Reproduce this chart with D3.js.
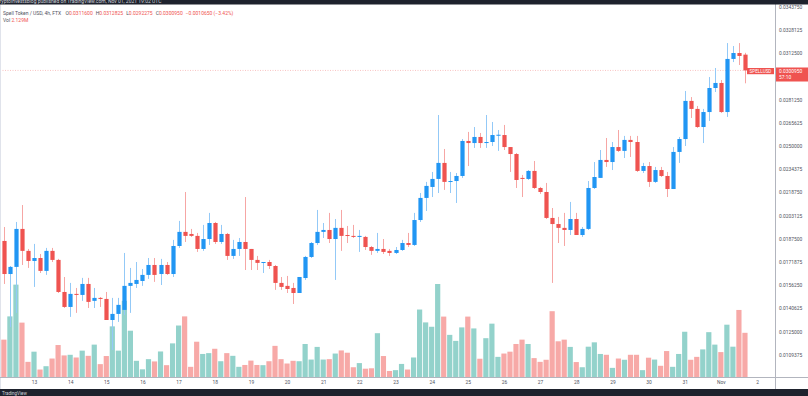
<!DOCTYPE html>
<html>
<head>
<meta charset="utf-8">
<script src="https://cdn.jsdelivr.net/npm/d3@7"></script>
<style>
body { margin: 0; background: #fff; }
svg { display: block; font-family: Roboto, "Liberation Sans", sans-serif; }
</style>
</head>
<body>
<script>
var W = 808, H = 396;
var paneRight = 775, paneBottom = 377;

// 4h candles, Spell Token / USD (FTX), Oct 12 04:00 -> Nov 1 16:00 UTC
var openP = [0.01860,0.01637,0.01685,0.01941,0.01793,0.01725,0.01745,0.01658,0.01793,0.01732,
  0.01516,0.01415,0.01503,0.01496,0.01570,0.01456,0.01476,0.01469,0.01327,0.01368,
  0.01395,0.01557,0.01570,0.01590,0.01631,0.01698,0.01637,0.01698,0.01637,0.01826,
  0.01921,0.01907,0.01894,0.01806,0.01873,0.01981,0.01853,0.01907,0.01759,0.01806,
  0.01853,0.01806,0.01732,0.01712,0.01718,0.01691,0.01577,0.01557,0.01543,0.01509,
  0.01610,0.01752,0.01846,0.01921,0.01934,0.01873,0.01948,0.01900,0.01894,0.01887,
  0.01887,0.01819,0.01793,0.01806,0.01793,0.01779,0.01799,0.01846,0.01833,0.02001,
  0.02150,0.02224,0.02278,0.02386,0.02258,0.02264,0.02298,0.02534,0.02520,0.02561,
  0.02520,0.02527,0.02572,0.02574,0.02493,0.02446,0.02285,0.02278,0.02332,0.02217,
  0.02190,0.02015,0.01974,0.01948,0.01934,0.02008,0.01900,0.01941,0.02217,0.02285,
  0.02406,0.02392,0.02493,0.02467,0.02541,0.02527,0.02332,0.02365,0.02258,0.02338,
  0.02298,0.02210,0.02460,0.02547,0.02804,0.02750,0.02628,0.02729,0.02891,0.02925,
  0.02729,0.03087,0.03127,0.03116];

var highP = [0.01954,0.01691,0.01988,0.02102,0.01806,0.01840,0.01772,0.01813,0.01813,0.01739,
  0.01617,0.01577,0.01543,0.01611,0.01611,0.01543,0.01482,0.01516,0.01476,0.01476,
  0.01779,0.01678,0.01718,0.01671,0.01745,0.01745,0.01739,0.01718,0.01867,0.01995,
  0.02190,0.01941,0.01914,0.01968,0.02049,0.01988,0.01968,0.01914,0.01867,0.01880,
  0.02156,0.01806,0.01759,0.01718,0.01732,0.01698,0.01617,0.01624,0.01577,0.01617,
  0.01759,0.01853,0.02069,0.01981,0.02049,0.02008,0.02069,0.01961,0.01968,0.01934,
  0.01894,0.01826,0.01914,0.01873,0.01806,0.01819,0.01867,0.01914,0.02049,0.02183,
  0.02258,0.02325,0.02709,0.02480,0.02325,0.02318,0.02547,0.02595,0.02628,0.02588,
  0.02709,0.02662,0.02608,0.02642,0.02493,0.02453,0.02305,0.02338,0.02399,0.02224,
  0.02251,0.02082,0.02022,0.02049,0.02123,0.02049,0.01954,0.02264,0.02392,0.02473,
  0.02554,0.02527,0.02608,0.02568,0.02568,0.02568,0.02386,0.02392,0.02359,0.02359,
  0.02325,0.02493,0.02561,0.02871,0.02830,0.02770,0.02750,0.02965,0.03026,0.02945,
  0.03194,0.03174,0.03194,0.0312825];

var lowP = [0.01570,0.01280,0.01375,0.01698,0.01678,0.01550,0.01644,0.01631,0.01718,0.01509,
  0.01408,0.01348,0.01375,0.01456,0.01408,0.01408,0.01415,0.01327,0.01125,0.01314,
  0.01361,0.01375,0.01543,0.01557,0.01604,0.01584,0.01563,0.01631,0.01617,0.01813,
  0.01853,0.01887,0.01786,0.01793,0.01833,0.01840,0.01840,0.01732,0.01739,0.01759,
  0.01664,0.01664,0.01664,0.01644,0.01671,0.01530,0.01530,0.01509,0.01435,0.01509,
  0.01597,0.01745,0.01833,0.01880,0.01846,0.01597,0.01793,0.01846,0.01880,0.01786,
  0.01799,0.01766,0.01779,0.01772,0.01759,0.01772,0.01793,0.01819,0.01826,0.01988,
  0.02062,0.02156,0.02183,0.02204,0.02183,0.02116,0.02285,0.02365,0.02487,0.02487,
  0.02487,0.02500,0.02467,0.02473,0.02325,0.02217,0.02156,0.02271,0.02210,0.02177,
  0.02008,0.01577,0.01846,0.01826,0.01900,0.01900,0.01887,0.01934,0.02210,0.02285,
  0.02359,0.02338,0.02460,0.02419,0.02426,0.02325,0.02318,0.02224,0.02251,0.02291,
  0.02156,0.02210,0.02386,0.02500,0.02689,0.02622,0.02520,0.02669,0.02864,0.02723,
  0.02696,0.03066,0.03046,0.0292275];

var closeP = [0.01637,0.01685,0.01941,0.01793,0.01725,0.01745,0.01658,0.01793,0.01732,0.01516,
  0.01415,0.01503,0.01496,0.01570,0.01449,0.01476,0.01469,0.01327,0.01368,0.01429,
  0.01557,0.01577,0.01597,0.01631,0.01698,0.01631,0.01698,0.01637,0.01826,0.01921,
  0.01894,0.01894,0.01806,0.01873,0.01981,0.01853,0.01907,0.01759,0.01806,0.01853,
  0.01806,0.01732,0.01712,0.01718,0.01691,0.01577,0.01550,0.01536,0.01509,0.01617,
  0.01752,0.01846,0.01921,0.01934,0.01873,0.01948,0.01894,0.01894,0.01887,0.01894,
  0.01819,0.01793,0.01806,0.01786,0.01779,0.01799,0.01846,0.01833,0.02001,0.02150,
  0.02231,0.02278,0.02386,0.02258,0.02264,0.02298,0.02534,0.02520,0.02561,0.02520,
  0.02527,0.02574,0.02576,0.02493,0.02446,0.02271,0.02278,0.02332,0.02217,0.02190,
  0.02015,0.01974,0.01948,0.01934,0.02008,0.01900,0.01941,0.02217,0.02291,0.02406,
  0.02392,0.02493,0.02467,0.02541,0.02527,0.02332,0.02365,0.02258,0.02338,0.02298,
  0.02210,0.02460,0.02547,0.02804,0.02750,0.02628,0.02729,0.02891,0.02925,0.02729,
  0.03087,0.03127,0.03107,0.030095];

// volume, millions
var volume = [1.80,2.92,4.45,2.62,0.73,1.22,0.36,0.52,0.89,1.54,
  1.04,1.07,0.94,1.27,1.02,1.56,0.62,1.01,2.44,1.27,
  3.67,2.23,0.78,0.37,0.86,0.75,1.23,0.57,1.62,2.48,
  2.92,0.49,1.70,1.11,1.15,1.36,0.76,1.15,1.02,0.49,
  0.58,0.79,0.58,0.57,0.76,1.50,0.86,0.65,0.78,0.76,
  1.59,0.84,1.45,0.84,0.86,1.13,1.28,1.17,0.47,0.67,
  0.40,0.42,2.11,1.01,0.29,0.33,0.63,0.36,0.94,3.25,
  2.63,2.42,4.48,2.91,2.03,1.74,2.39,2.91,2.34,0.88,
  1.87,2.57,0.97,1.13,1.22,1.59,1.80,1.59,0.91,0.73,
  0.83,3.17,1.72,1.80,1.45,0.72,0.47,1.46,1.67,1.11,
  1.07,0.44,0.89,0.83,1.07,1.07,0.33,0.93,0.84,0.54,
  1.25,0.49,1.11,2.18,0.83,0.97,1.33,2.16,1.56,1.20,
  2.52,1.46,3.23,2.129];

// 0.0296875 sits under the last-price label, so it is not shown
var priceTicks = [0.0343750,0.0328125,0.0312500,0.0281250,0.0265625,0.0250000,0.0234375,
  0.0218750,0.0203125,0.0187500,0.0171875,0.0156250,0.0140625,0.0125000,0.0109375];
var dayLabels = ["13","14","15","16","17","18","19","20","21","22","23","24","25","26","27","28","29","30","31","Nov","2"];

var times = d3.utcHour.every(4).range(new Date(Date.UTC(2021, 9, 12, 4)), new Date(Date.UTC(2021, 10, 1, 20)));
var dayTicks = d3.utcDay.range(new Date(Date.UTC(2021, 9, 13)), new Date(Date.UTC(2021, 10, 3)));

var candles = times.map(function(t, i) {
	return {t: t, o: openP[i], h: highP[i], l: lowP[i], c: closeP[i], v: volume[i]};
});

var upCol = "#2196f3", downCol = "#ef5350";
var upWick = "#93c9f7", downWick = "#f6a6a4";
var upVol = "#93d2cb", downVol = "#f7a9a7";

var svg = d3.select("body").append("svg")
	.attr("width", W)
	.attr("height", H);

/*Scales*/
var x = d3.scaleUtc()
	.domain([new Date(Date.UTC(2021, 9, 12)), new Date(Date.UTC(2021, 10, 2))])
	.range([-2.15, 757]);
var y = d3.scaleLinear()
	.domain([0.0109375, 0.03125])
	.range([354.6, 53.3]);
var yVol = d3.scaleLinear()
	.domain([0, d3.max(volume)])
	.range([paneBottom, 284]);

svg.append("clipPath").attr("id", "pane")
	.append("rect").attr("x", 0).attr("y", 0).attr("width", paneRight).attr("height", paneBottom);

var pane = svg.append("g").attr("clip-path", "url(#pane)");

/*Volume*/
var vw = 5.2;
pane.selectAll("rect.vol").data(candles).enter().append("rect")
	.attr("class", "vol")
	.attr("x", function(d) { return x(d.t) - vw / 2; })
	.attr("y", function(d) { return yVol(d.v); })
	.attr("width", vw)
	.attr("height", function(d) { return paneBottom - yVol(d.v); })
	.attr("fill", function(d) { return d.c >= d.o ? upVol : downVol; });

/*Last price line*/
var last = candles[candles.length - 1];
pane.append("line")
	.attr("x1", 0).attr("x2", paneRight)
	.attr("y1", y(last.c)).attr("y2", y(last.c))
	.attr("stroke", "#ef5350").attr("stroke-opacity", 0.5)
	.attr("stroke-width", 0.7).attr("stroke-dasharray", "1,1.5");

/*Candles*/
var bw = 4.2;
var cg = pane.selectAll("g.candle").data(candles).enter().append("g").attr("class", "candle");
cg.append("line")
	.attr("x1", function(d) { return Math.round(x(d.t)) + 0.5; })
	.attr("x2", function(d) { return Math.round(x(d.t)) + 0.5; })
	.attr("y1", function(d) { return y(d.h); })
	.attr("y2", function(d) { return y(d.l); })
	.attr("stroke", function(d) { return d.c >= d.o ? upWick : downWick; })
	.attr("stroke-width", 1);
cg.append("rect")
	.attr("x", function(d) { return Math.round(x(d.t)) + 0.5 - bw / 2; })
	.attr("y", function(d) { return y(Math.max(d.o, d.c)); })
	.attr("width", bw)
	.attr("height", function(d) { return Math.max(1, Math.abs(y(d.o) - y(d.c))); })
	.attr("fill", function(d) { return d.c >= d.o ? upCol : downCol; });

/*Borders*/
svg.append("line").attr("x1", 0.5).attr("x2", 0.5).attr("y1", 0).attr("y2", 389)
	.attr("stroke", "#e0e3eb");
svg.append("line").attr("x1", paneRight + 0.5).attr("x2", paneRight + 0.5).attr("y1", 0).attr("y2", 389)
	.attr("stroke", "#b2b5be");
svg.append("line").attr("x1", 0).attr("x2", W).attr("y1", paneBottom + 0.5).attr("y2", paneBottom + 0.5)
	.attr("stroke", "#b2b5be");

/*Axes*/
var yAxis = d3.axisRight(y)
	.tickValues(priceTicks)
	.tickSize(0)
	.tickPadding(4)
	.tickFormat(d3.format(".7f"));
var ya = svg.append("g")
	.attr("transform", "translate(" + paneRight + ",0)")
	.call(yAxis);
ya.select(".domain").remove();
ya.selectAll("text").attr("font-size", 4.9).attr("fill", "#50535e").attr("font-family", "Roboto, sans-serif");

var xAxis = d3.axisBottom(x)
	.tickValues(dayTicks)
	.tickSize(0)
	.tickPadding(4)
	.tickFormat(function(d, i) { return dayLabels[i]; });
var xa = svg.append("g")
	.attr("transform", "translate(0," + paneBottom + ")")
	.call(xAxis);
xa.select(".domain").remove();
xa.selectAll("text").attr("font-size", 4.9).attr("fill", "#50535e").attr("font-family", "Roboto, sans-serif");

/*Last price labels*/
svg.append("rect").attr("x", paneRight + 1).attr("y", 67.5).attr("width", W - paneRight - 1).attr("height", 14)
	.attr("fill", downCol);
svg.append("text").attr("x", 779).attr("y", 73.2).attr("font-size", 4.9).attr("fill", "#fff")
	.text(d3.format(".7f")(last.c));
svg.append("text").attr("x", 779).attr("y", 79.2).attr("font-size", 4.9).attr("fill", "#fff")
	.text("57:10");
svg.append("rect").attr("x", 747).attr("y", 68).attr("width", 27).attr("height", 6.2)
	.attr("fill", downCol);
svg.append("text").attr("x", 760.5).attr("y", 72.9).attr("font-size", 4.6).attr("fill", "#fff")
	.attr("text-anchor", "middle").text("SPELLUSD");

/*Legend*/
var f7 = d3.format(".7f");
var leg = svg.append("text").attr("x", 3).attr("y", 15).attr("font-size", 5).attr("fill", "#50535e");
leg.append("tspan").text("Spell Token / USD, 4h, FTX ");
[["O", last.o], ["H", last.h], ["L", last.l], ["C", last.c]].forEach(function(p) {
	leg.append("tspan").attr("dx", 3).text(p[0]);
	leg.append("tspan").attr("fill", downCol).text(f7(p[1]));
});
leg.append("tspan").attr("dx", 3).attr("fill", downCol)
	.text("\u22120.0010650 (\u22123.42%)");
var vleg = svg.append("text").attr("x", 3).attr("y", 21.8).attr("font-size", 5).attr("fill", "#50535e");
vleg.append("tspan").text("Vol ");
vleg.append("tspan").attr("fill", downCol).text(last.v + "M");

/*Top and bottom bars*/
svg.append("rect").attr("x", 0).attr("y", 0).attr("width", W).attr("height", 4.5).attr("fill", "#1e222d");
svg.append("text").attr("x", -3).attr("y", 2.8).attr("font-size", 5).attr("fill", "#d1d4dc")
	.text("cryptoinvestsblog published on TradingView.com, Nov 01, 2021 19:02 UTC");
svg.append("rect").attr("x", 0).attr("y", 389).attr("width", W).attr("height", 7).attr("fill", "#1e222d");
svg.append("text").attr("x", 2).attr("y", 394.5).attr("font-size", 4.5).attr("fill", "#d1d4dc")
	.text("TradingView");
</script>
</body>
</html>
